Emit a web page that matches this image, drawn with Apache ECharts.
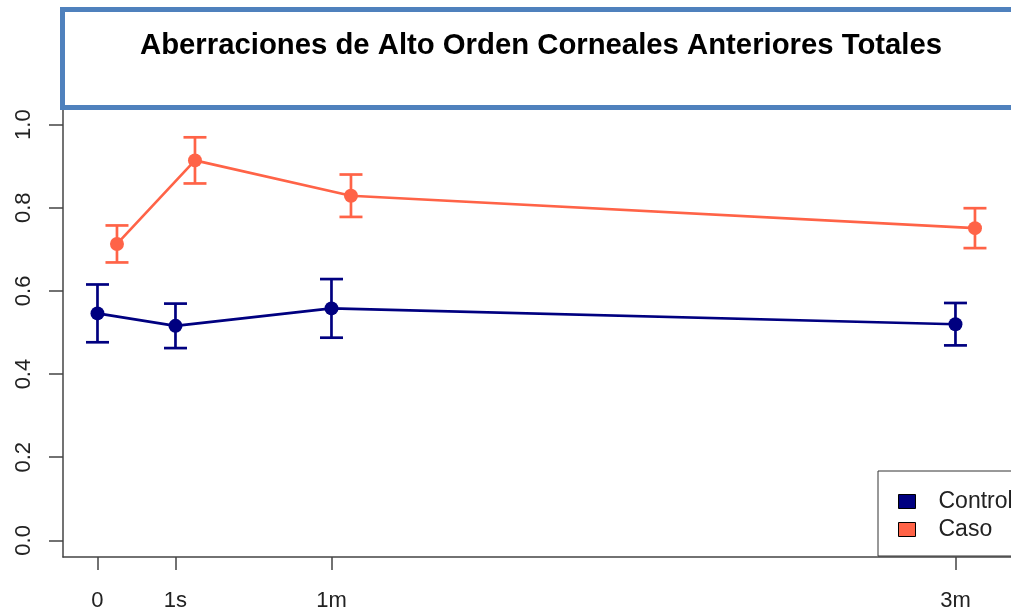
<!DOCTYPE html>
<html>
<head>
<meta charset="utf-8">
<script src="https://cdn.jsdelivr.net/npm/echarts@6/dist/echarts.min.js"></script>
<style>
html,body{margin:0;padding:0;background:#fff;}
#chart{width:1011px;height:614px;}
</style>
</head>
<body>
<div id="chart"></div>
<script>
// ---- data ----
const titleText = 'Aberraciones de Alto Orden Corneales Anteriores Totales';
const timeLabels = ['0', '1s', '1m', '3m'];
const timePos = [0, 1, 3, 11];
const casoShift = 0.25;
const controlMean = [0.546, 0.516, 0.558, 0.520];
const controlErr = [0.0695, 0.0535, 0.0705, 0.051];
const casoMean = [0.713, 0.914, 0.829, 0.751];
const casoErr = [0.0445, 0.0555, 0.051, 0.048];
const yTicks = [0, 0.2, 0.4, 0.6, 0.8, 1.0];
const seriesNames = ['Control', 'Caso'];

const FONT = '"Liberation Sans", Arial, Helvetica, sans-serif';
const COLORS = ['#000080', '#FF6347'];
const AXIS_COLOR = '#444';

const controlPts = timePos.map((x, i) => [x, controlMean[i]]);
const casoPts = timePos.map((x, i) => [x + casoShift, casoMean[i]]);
const controlBars = timePos.map((x, i) => [x, controlMean[i] - controlErr[i], controlMean[i] + controlErr[i]]);
const casoBars = timePos.map((x, i) => [x + casoShift, casoMean[i] - casoErr[i], casoMean[i] + casoErr[i]]);

function errRender(color) {
  return function (params, api) {
    const x = api.value(0);
    const top = api.coord([x, api.value(2)]);
    const bot = api.coord([x, api.value(1)]);
    const hw = 11.5;
    const style = { stroke: color, lineWidth: 2.7 };
    return {
      type: 'group',
      children: [
        { type: 'line', shape: { x1: top[0], y1: top[1], x2: bot[0], y2: bot[1] }, style },
        { type: 'line', shape: { x1: top[0] - hw, y1: top[1], x2: top[0] + hw, y2: top[1] }, style },
        { type: 'line', shape: { x1: bot[0] - hw, y1: bot[1], x2: bot[0] + hw, y2: bot[1] }, style }
      ]
    };
  };
}

const chart = echarts.init(document.getElementById('chart'), null, { renderer: 'canvas' });
chart.setOption({
  animation: false,
  backgroundColor: '#fff',
  textStyle: { fontFamily: FONT },
  title: {
    text: titleText,
    left: 140,
    top: 31,
    padding: 0,
    z: 8,
    textStyle: { fontFamily: FONT, fontSize: 29.3, fontWeight: 'bold', color: '#000' }
  },
  graphic: [
    {
      type: 'rect',
      z: 7,
      shape: { x: 62.5, y: 9.5, width: 1000, height: 98 },
      style: { fill: '#fff', stroke: '#4F81BD', lineWidth: 5 }
    }
  ],
  legend: {
    orient: 'vertical',
    left: 878,
    top: 471,
    padding: [19, 90, 15, 20],
    itemWidth: 17,
    itemHeight: 14,
    itemGap: 5,
    icon: 'rect',
    borderColor: '#333',
    borderWidth: 1,
    backgroundColor: '#fff',
    itemStyle: { borderColor: '#000', borderWidth: 1 },
    textStyle: { fontFamily: FONT, fontSize: 23, color: '#222', padding: [0, 0, 0, 18] },
    data: seriesNames
  },
  grid: { left: 63, top: 108, height: 449, right: 0, containLabel: false },
  xAxis: {
    type: 'value',
    min: -0.442,
    max: 11.712,
    axisLine: { show: true, onZero: false, lineStyle: { color: AXIS_COLOR, width: 1.5 } },
    axisTick: { show: true, length: 13, customValues: timePos, lineStyle: { color: AXIS_COLOR, width: 1.5 } },
    axisLabel: {
      customValues: timePos,
      formatter: v => timeLabels[timePos.indexOf(v)],
      fontFamily: FONT, fontSize: 22, color: '#222', margin: 33
    },
    splitLine: { show: false }
  },
  yAxis: {
    type: 'value',
    min: -0.04,
    max: 1.04,
    axisLine: { show: true, onZero: false, lineStyle: { color: AXIS_COLOR, width: 1.5 } },
    axisTick: { show: true, length: 14, customValues: yTicks, lineStyle: { color: AXIS_COLOR, width: 1.5 } },
    axisLabel: {
      customValues: yTicks,
      formatter: v => v.toFixed(1),
      rotate: 90,
      fontFamily: FONT, fontSize: 22, color: '#222', margin: 28
    },
    splitLine: { show: false }
  },
  series: [
    {
      name: seriesNames[0], type: 'line', data: controlPts,
      color: COLORS[0], symbol: 'circle', symbolSize: 14,
      lineStyle: { color: COLORS[0], width: 2.6 }, itemStyle: { color: COLORS[0] }, z: 3
    },
    {
      name: seriesNames[1], type: 'line', data: casoPts,
      color: COLORS[1], symbol: 'circle', symbolSize: 14,
      lineStyle: { color: COLORS[1], width: 2.6 }, itemStyle: { color: COLORS[1] }, z: 3
    },
    {
      name: 'ControlErr', type: 'custom', data: controlBars,
      encode: { x: 0, y: [1, 2] }, renderItem: errRender(COLORS[0]), z: 2
    },
    {
      name: 'CasoErr', type: 'custom', data: casoBars,
      encode: { x: 0, y: [1, 2] }, renderItem: errRender(COLORS[1]), z: 2
    }
  ]
});
</script>
</body>
</html>
